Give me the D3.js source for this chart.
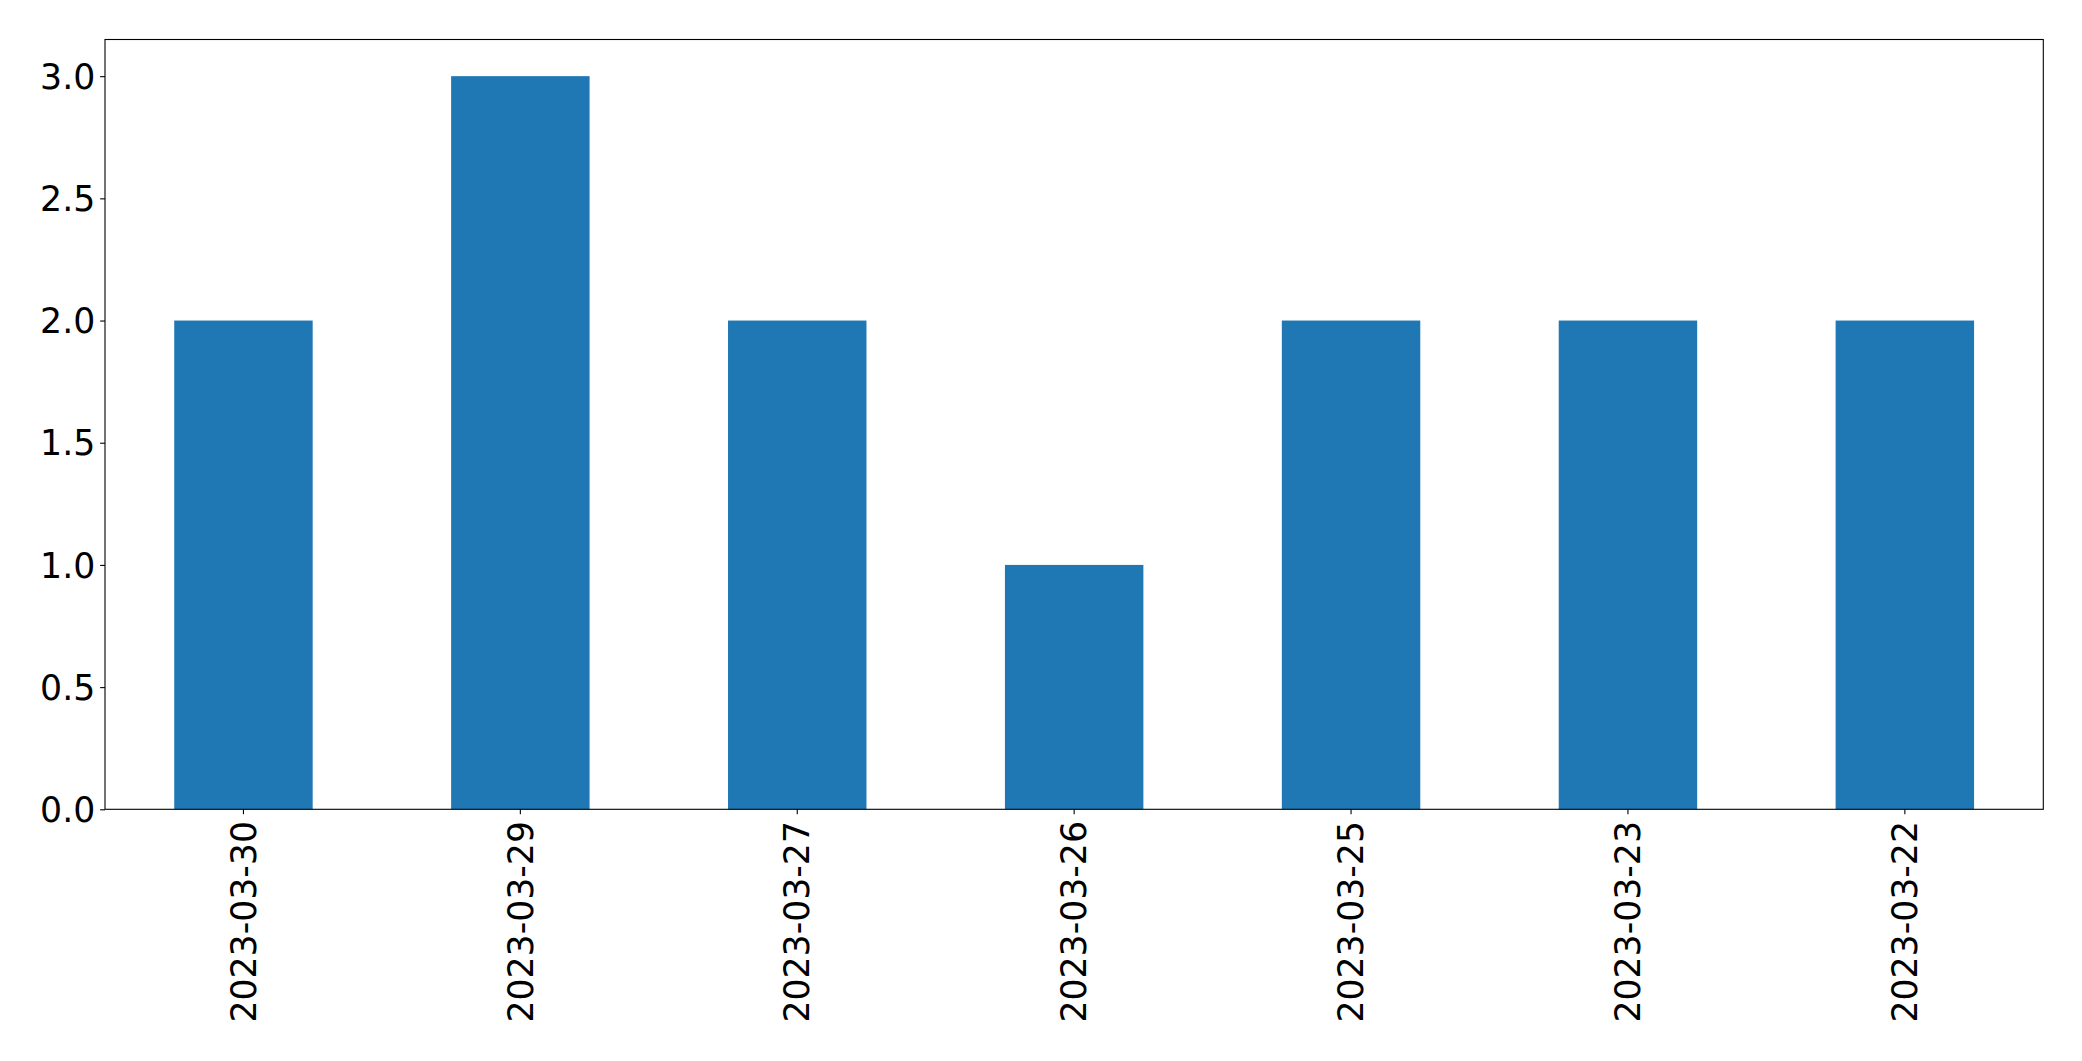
<!DOCTYPE html>
<html>
<head>
<meta charset="utf-8">
<script src="https://cdn.jsdelivr.net/npm/d3@7"></script>
<style>
  html, body { margin: 0; padding: 0; background: #fff; }
  svg { display: block; }
  text { font-family: "DejaVu Sans", sans-serif; }
</style>
</head>
<body>
<script>
const categories = ["2023-03-30", "2023-03-29", "2023-03-27", "2023-03-26", "2023-03-25", "2023-03-23", "2023-03-22"];
const values = [2, 3, 2, 1, 2, 2, 2];
const yTicks = [0.0, 0.5, 1.0, 1.5, 2.0, 2.5, 3.0];

const W = 2082, H = 1061;
const m = { left: 105, right: 2043.3, top: 39.5, bottom: 809.3 };
const fontSize = 34.7;
const tickLen = 4.86, pad = 4.86;

const svg = d3.select("body").append("svg").attr("width", W).attr("height", H);

const x = d3.scaleBand().domain(categories).range([m.left, m.right]).paddingInner(0.5).paddingOuter(0.25);
const yMax = d3.max(values) * 1.05;
const y = d3.scaleLinear().domain([0, yMax]).range([m.bottom, m.top]);

svg.append("g").selectAll("rect").data(categories).join("rect")
  .attr("x", d => x(d))
  .attr("width", x.bandwidth())
  .attr("y", (d, i) => y(values[i]))
  .attr("height", (d, i) => y(0) - y(values[i]))
  .attr("fill", "#1f77b4");

// axes
const xAxis = d3.axisBottom(x).tickSize(tickLen).tickPadding(pad);
const gx = svg.append("g").attr("transform", `translate(0,${m.bottom})`).call(xAxis);
gx.select(".domain").remove();
gx.selectAll(".tick line").attr("stroke", "#000").attr("stroke-width", 1.1);
gx.selectAll(".tick text")
  .attr("font-size", fontSize)
  .attr("fill", "#000")
  .attr("text-anchor", "end")
  .attr("transform", `translate(0,${tickLen + pad + 2}) rotate(-90)`)
  .attr("x", 0).attr("y", 0).attr("dy", "0.35em");

const yAxis = d3.axisLeft(y).tickValues(yTicks).tickFormat(d3.format(".1f")).tickSize(tickLen).tickPadding(pad);
const gy = svg.append("g").attr("transform", `translate(${m.left},0)`).call(yAxis);
gy.select(".domain").remove();
gy.selectAll(".tick line").attr("stroke", "#000").attr("stroke-width", 1.1);
gy.selectAll(".tick text").attr("font-size", fontSize).attr("fill", "#000").attr("dy", "0.35em");

// frame
svg.append("rect")
  .attr("x", m.left).attr("y", m.top)
  .attr("width", m.right - m.left).attr("height", m.bottom - m.top)
  .attr("fill", "none").attr("stroke", "#000").attr("stroke-width", 1.1);
</script>
</body>
</html>
